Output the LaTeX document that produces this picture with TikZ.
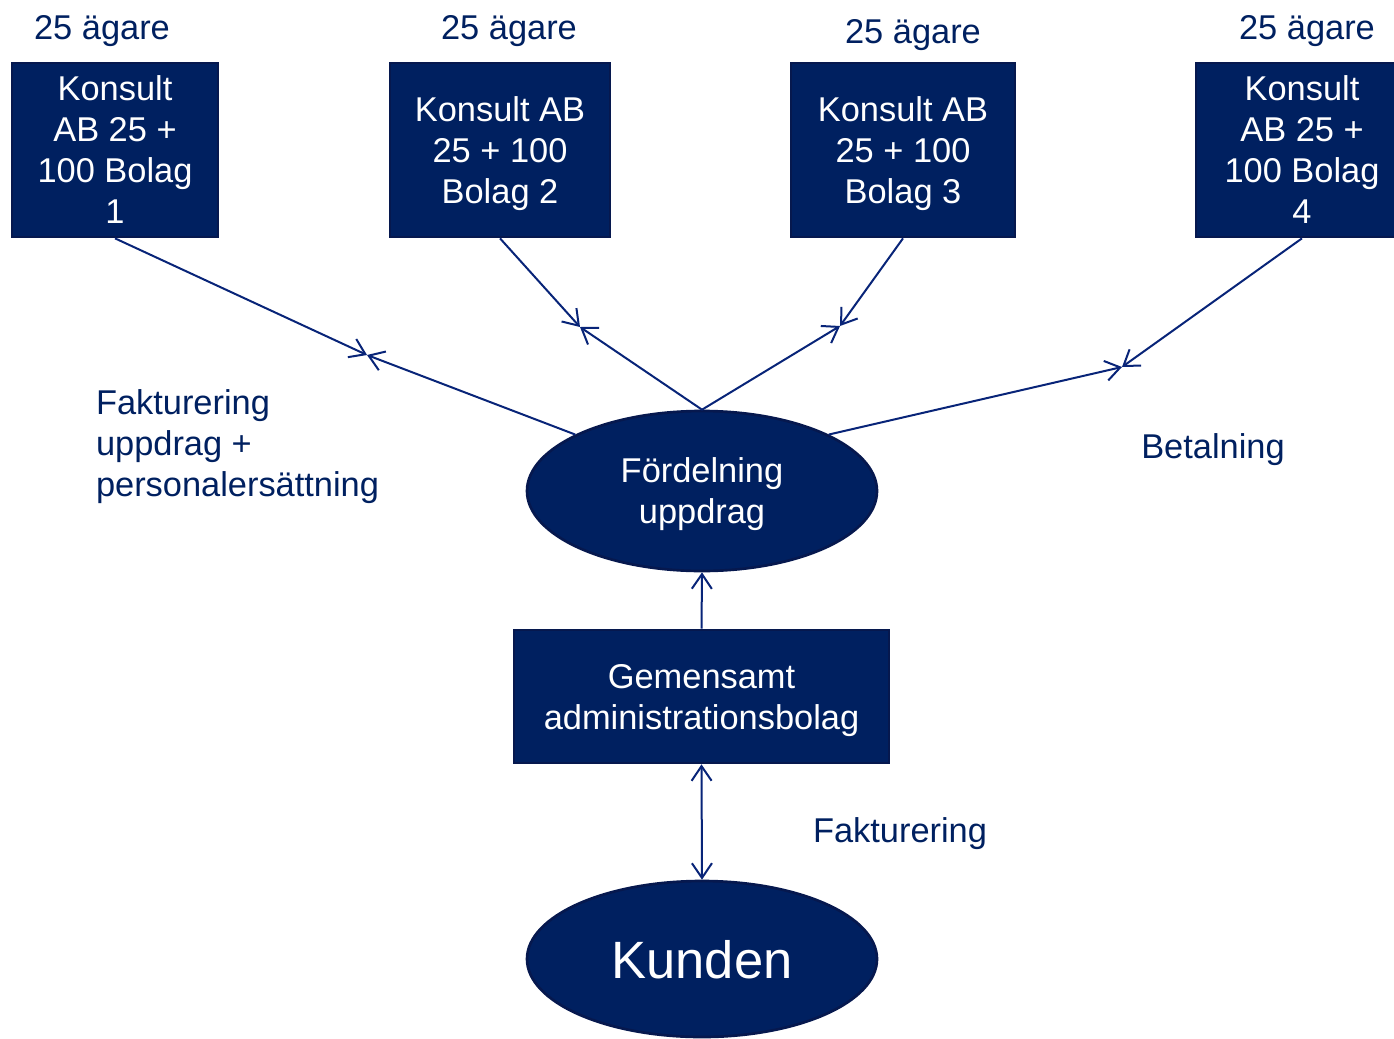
\documentclass[tikz,border=0pt]{standalone}
\usepackage{fontspec}
\setmainfont{Liberation Sans}
\usetikzlibrary{shapes.geometric,arrows.meta}
\definecolor{navy}{RGB}{0,32,96}
\definecolor{navyline}{RGB}{6,24,78}
\definecolor{arrowblue}{RGB}{8,36,120}

\begin{document}
\begin{tikzpicture}[x=0.75pt, y=-0.75pt, line width=1.5pt,
  >={Straight Barb[length=11pt,width=15pt]},
  main/.style = {draw=navyline, fill=navy, text=white, line width=2pt, inner sep=0pt, align=center,
    text depth=0pt, font=\fontsize{25.8pt}{30.75pt}\selectfont},
  oval/.style = {main, ellipse},
  lbl/.style = {text=navy, inner sep=0pt, font=\fontsize{25.8pt}{30.75pt}\selectfont},
  conn/.style = {draw=arrowblue, ->}]
  \useasboundingbox (0,0) rectangle (1394,1038);
  \node[main, minimum width=154.5pt, minimum height=130.5pt] (1) at (115,150) {Konsult\\AB 25 +\\100 Bolag\\1};
  \node[main, minimum width=165pt, minimum height=130.5pt] (2) at (500,150) {Konsult AB\\25 + 100\\Bolag 2};
  \node[main, minimum width=168pt, minimum height=130.5pt] (3) at (903,150) {Konsult AB\\25 + 100\\Bolag 3};
  \node[main, minimum width=159pt, minimum height=130.5pt] (4) at (1302,150) {Konsult\\AB 25 +\\100 Bolag\\4};
  \node[oval, minimum width=262.5pt, minimum height=120pt] (ford) at (702,491) {Fördelning\\uppdrag};
  \node[main, minimum width=281.25pt, minimum height=99.75pt] (gem) at (701.5,696.5) {Gemensamt\\administrationsbolag};
  \node[oval, minimum width=262.5pt, minimum height=117pt, font=\fontsize{39.4pt}{45pt}\selectfont] (kund) at (702,959) {Kunden};
  % owners
  \node[lbl] (a1) at (102,31) {25 ägare};
  \node[lbl] (a2) at (509,31) {25 ägare};
  \node[lbl] (a3) at (913,35) {25 ägare};
  \node[lbl] (a4) at (1307,31) {25 ägare};
  \node[lbl, anchor=west, align=left] (fakt) at (95,447) {Fakturering\\uppdrag +\\personalersättning};
  \node[lbl] (bet) at (1213,450) {Betalning};
  \node[lbl] (fakt2) at (900,834) {Fakturering};
  % meeting points
  \coordinate (m1) at (367,355);
  \coordinate (m2) at (580,327);
  \coordinate (m3) at (840,326);
  \coordinate (m4) at (1122,367);
  \draw[conn] (1.south) to (m1);
  \draw[conn] (ford.156) to (m1);
  \draw[conn] (2.south) to (m2);
  \draw[conn] (ford.north) to (m2);
  \draw[conn] (3.south) to (m3);
  \draw[conn] (ford.north) to (m3);
  \draw[conn] (4.south) to (m4);
  \draw[conn] (ford.24) to (m4);
  \draw[conn] (gem.north) to (ford.south);
  \draw[conn, <->] (gem.south) to (kund.north);
\end{tikzpicture}
\end{document}
